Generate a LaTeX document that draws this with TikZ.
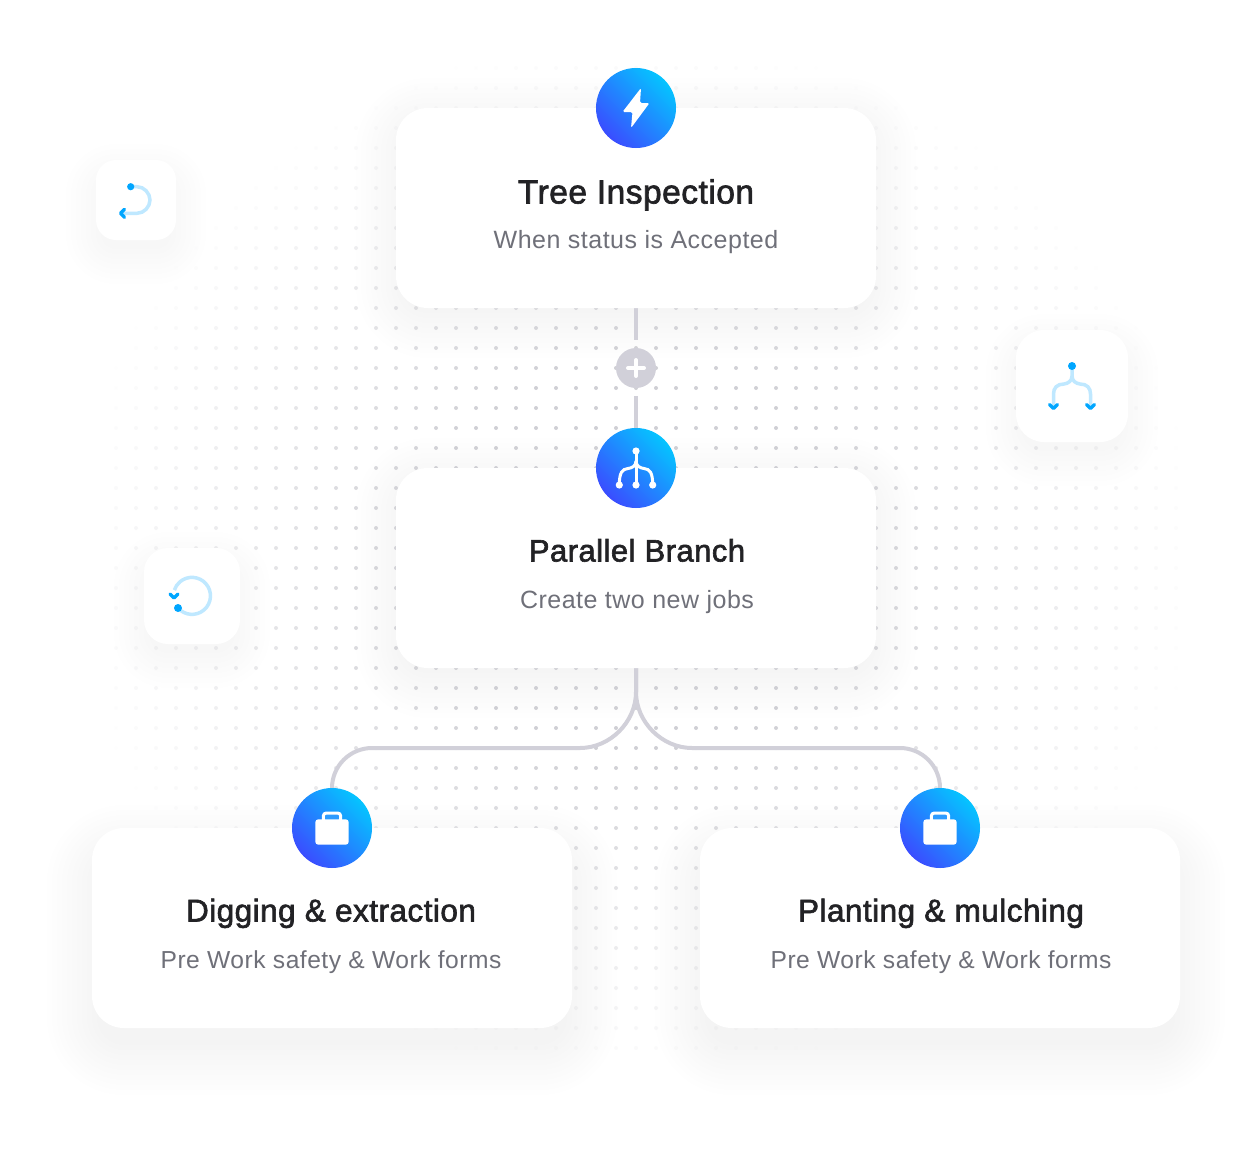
\documentclass[tikz,border=0pt]{standalone}
\usepackage{fontspec}
\usepackage{xcolor}
\usetikzlibrary{arrows.meta,positioning,calc,backgrounds}
\setmainfont{Liberation Sans}
\newfontfamily\headfont[FakeBold=2,LetterSpace=1.5]{Liberation Sans}
\newfontfamily\subfont[LetterSpace=2.0]{Liberation Sans}
\definecolor{linkgray}{HTML}{D1D0D9}
\definecolor{dotgray}{HTML}{CFCFD4}
\definecolor{inkdark}{HTML}{222225}
\definecolor{inkgray}{HTML}{6F7079}
\definecolor{badgelow}{HTML}{3A4DFF}
\definecolor{badgehigh}{HTML}{05C4FF}
\definecolor{iconpale}{HTML}{BFE8FF}
\definecolor{iconblue}{HTML}{00A6FF}
\definecolor{slotblue}{HTML}{2E9BFF}
\newcommand{\softshadow}[4]{%
  \foreach \g in {-1,...,#4} {
    \pgfmathsetmacro{\shr}{#2+5*\g}
    \fill[black, opacity=.002, rounded corners=\shr pt]
      ($(#1.north west)+(-5*\g,-5*\g+#3)$) rectangle ($(#1.south east)+(5*\g,5*\g+#3)$);
  }
}
\newcommand{\jobicon}[1]{%
  \begin{scope}[shift={(#1)}]
    \draw[white, line width=3pt, fill=slotblue, rounded corners=3pt] (-8.7,-6) rectangle (8.7,-15);
    \fill[white, rounded corners=3pt] (-16.7,-8.7) rectangle (16.7,16.7);
  \end{scope}
}
\begin{document}
\begin{tikzpicture}[
  x=1pt, y=-1pt,
  card/.style={rounded corners=32pt, minimum width=480pt, minimum height=200pt, inner sep=0pt, outer sep=0pt, fill=white},
  tile/.style={rounded corners=#1, inner sep=0pt, outer sep=0pt, fill=white},
  badge/.style={circle, minimum size=80pt, inner sep=0pt, outer sep=0pt, bottom color=badgelow, top color=badgehigh, shading angle=-45},
  addbtn/.style={circle, minimum size=40pt, inner sep=0pt, outer sep=0pt, fill=linkgray},
  headline/.style={font=\headfont\fontsize{#1}{36}\selectfont, text=inkdark, text height=24pt, text depth=7pt, inner sep=0pt},
  subline/.style={font=\subfont\fontsize{#1}{30}\selectfont, text=inkgray, text height=18pt, text depth=6pt, inner sep=0pt},
  subline/.default=25,
  link/.style={line width=4pt, draw=linkgray},
  paleline/.style={line width=3.5pt, draw=iconpale},
  chevron/.style={line width=3.4pt, draw=iconblue, line cap=round, line join=round}
]
  \node[card] (tree) at (636,208) {};
  \node[card, below=160pt of tree] (parallel) {};
  \node[card, below=160pt of parallel, xshift=-304pt] (digging) {};
  \node[card, below=160pt of parallel, xshift=304pt] (planting) {};

  \node[tile=20pt, minimum size=80pt] (undo) at (136,200) {};
  \node[tile=28pt, minimum size=112pt] (split) at (1072,386) {};
  \node[tile=24pt, minimum size=96pt] (loop) at (192,596) {};

  \node[headline=33.5] (treehead) at ($(tree.north)+(0,87)$) {Tree Inspection};
  \node[subline] (treesub) at ($(tree.north)+(0,134)$) {When status is Accepted};
  \node[headline=31] (parallelhead) at ($(parallel.north)+(1,85)$) {Parallel Branch};
  \node[subline] (parallelsub) at ($(parallel.north)+(1,134)$) {Create two new jobs};
  \node[headline=31.5] (digginghead) at ($(digging.north)+(-1,85)$) {Digging \& extraction};
  \node[subline=24.6] (diggingsub) at ($(digging.north)+(-1,134)$) {Pre Work safety \& Work forms};
  \node[headline=31.5] (plantinghead) at ($(planting.north)+(1,85)$) {Planting \& mulching};
  \node[subline=24.6] (plantingsub) at ($(planting.north)+(1,134)$) {Pre Work safety \& Work forms};

  \node[addbtn] (addstep) at ($(tree.south)+(0,60)$) {};
  \node[badge] (treebadge) at (tree.north) {};
  \node[badge] (parallelbadge) at (parallel.north) {};
  \node[badge] (diggingbadge) at (digging.north) {};
  \node[badge] (plantingbadge) at (planting.north) {};

  \begin{scope}[on background layer]
    \path[use as bounding box, fill=white] (0,0) rectangle (1260,1148);
    \softshadow{tree}{32}{10}{8}
    \softshadow{parallel}{32}{10}{8}
    \softshadow{digging}{32}{22}{9}
    \softshadow{planting}{32}{22}{9}
    \softshadow{undo}{20}{14}{6}
    \softshadow{split}{28}{14}{6}
    \softshadow{loop}{24}{14}{6}
    \foreach \px in {116,136,...,1176} {
      \foreach \py in {68,88,...,1048} {
        \pgfmathsetmacro{\dotop}{min(1,1.6*(1-sqrt(((\px-636)/560)^2+((\py-558)/520)^2)))}
        \ifdim\dotop pt>0pt
          \fill[dotgray, opacity=\dotop] (\px,\py) circle[radius=2];
        \fi
      }
    }
    \draw[link, shorten >=8pt] (tree.south) -- (addstep.north);
    \draw[link, shorten <=8pt] (addstep.south) -- (parallelbadge.north);
    \draw[link] (parallel.south) -- ++(0,24) .. controls +(0,30) and +(30,0) .. ++(-56,56) -- ++(-208,0) .. controls +(-22,0) and +(0,-22) .. (diggingbadge.north);
    \draw[link] (parallel.south) -- ++(0,24) .. controls +(0,30) and +(-30,0) .. ++(56,56) -- ++(208,0) .. controls +(22,0) and +(0,-22) .. (plantingbadge.north);
  \end{scope}

  \draw[white, line width=4pt, line cap=round] ($(addstep)+(-8,0)$) -- ($(addstep)+(8,0)$) ($(addstep)+(0,-8)$) -- ($(addstep)+(0,8)$);

  \begin{scope}[shift={(treebadge)}]
    \fill[white, rounded corners=1.5pt] (5,-20) -- (-13.5,4) -- (-3.5,4) -- (-5,20) -- (13.5,-5) -- (4,-5) -- cycle;
  \end{scope}

  \begin{scope}[shift={(parallelbadge)}]
    \draw[white, line width=3pt] (0,-17) -- (0,17);
    \draw[white, line width=3pt] (0,-7) .. controls (0,-2) and (-4,0) .. (-8,0.5) .. controls (-14,1) and (-16.7,5) .. (-16.7,17);
    \draw[white, line width=3pt] (0,-7) .. controls (0,-2) and (4,0) .. (8,0.5) .. controls (14,1) and (16.7,5) .. (16.7,17);
    \foreach \p in {(0,-17),(-16.7,17),(0,17),(16.7,17)} \fill[white] \p circle[radius=3.6];
  \end{scope}

  \jobicon{diggingbadge}
  \jobicon{plantingbadge}

  \begin{scope}[shift={(undo)}]
    \draw[paleline] (-5,-13.3) -- (1,-13.3) .. controls (8,-13.3) and (14,-7) .. (14,0) .. controls (14,7) and (8,13.3) .. (1,13.3) -- (-13,13.3);
    \fill[iconblue] (-5.3,-13.3) circle[radius=3.6];
    \draw[chevron] (-11.5,9.3) -- (-15.5,13.3) -- (-11.5,17.3);
  \end{scope}

  \begin{scope}[shift={(split)}]
    \draw[paleline] (0,-20) -- (0,-10) .. controls (0,-5) and (-4,-2.5) .. (-8,-2) .. controls (-15,-2) and (-18.5,2) .. (-18.5,8) -- (-18.5,20);
    \draw[paleline] (0,-10) .. controls (0,-5) and (4,-2.5) .. (8,-2) .. controls (15,-2) and (18.5,2) .. (18.5,8) -- (18.5,20);
    \fill[iconblue] (0,-20) circle[radius=4];
    \draw[chevron] (-22.5,18.5) -- (-18.5,22.5) -- (-14.5,18.5);
    \draw[chevron] (14.5,18.5) -- (18.5,22.5) -- (22.5,18.5);
  \end{scope}

  \begin{scope}[shift={(loop)}]
    \draw[paleline] (-14,12) arc[start angle=139, end angle=-162, radius=18.5];
    \fill[iconblue] (-14,12) circle[radius=4];
    \draw[chevron] (-22,-2) -- (-18,2) -- (-14,-2);
  \end{scope}
\end{tikzpicture}
\end{document}
